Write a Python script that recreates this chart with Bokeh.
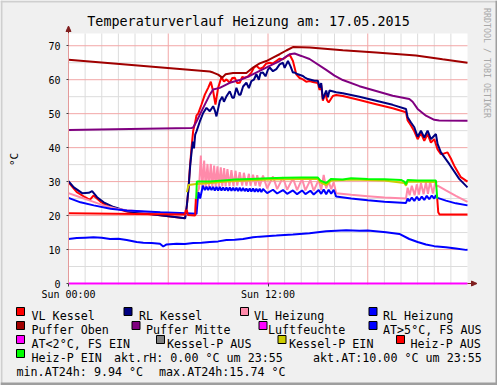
import math
from bokeh.plotting import figure
from bokeh.models import Range1d, FixedTicker, LinearAxis
from bokeh.core.properties import value
from bokeh.embed import file_html
from bokeh.resources import INLINE

# ---------------- data (hours of day, temperature °C) ----------------
vl_kessel = [(0, 29.8), (0.5, 26.9), (1.0, 25.4), (1.28, 24.6), (1.5, 25.9), (1.9, 24.2), (2.3, 22.9),
             (2.7, 22.3), (3.5, 21.2), (4.5, 20.6), (5.5, 20.1), (6.5, 19.5), (7.0, 19.2), (7.1, 22.0),
             (7.2, 27.0), (7.3, 34.0), (7.4, 40.0), (7.5, 45.0), (7.6, 47.0), (7.7, 49.5), (7.8, 50.0),
             (8.0, 52.7), (8.2, 55.6), (8.4, 57.6), (8.56, 59.4), (8.7, 56.6), (8.84, 52.7), (9.0, 57.6),
             (9.2, 60.8), (9.35, 59.5), (9.5, 60.1), (9.7, 59.1), (9.85, 60.5), (10.0, 60.6), (10.15, 59.0),
             (10.3, 59.1), (10.45, 60.8), (10.6, 60.6), (10.8, 61.0), (11.0, 62.1), (11.15, 63.5),
             (11.3, 64.1), (11.5, 63.2), (11.7, 63.6), (11.9, 64.8), (12.1, 65.0), (12.3, 64.8),
             (12.5, 65.5), (12.7, 66.2), (12.9, 66.0), (13.1, 66.8), (13.3, 67.4), (13.5, 65.5),
             (13.7, 61.6), (13.9, 60.5), (14.1, 60.1), (14.3, 59.4), (14.5, 59.6), (14.7, 59.3),
             (15.0, 59.0), (15.1, 57.0), (15.2, 58.5), (15.3, 53.8), (15.45, 56.0), (15.55, 54.0),
             (15.65, 53.3), (15.9, 55.2), (16.1, 55.5), (16.5, 55.2), (17.5, 54.0), (18.5, 52.8),
             (19.5, 51.6), (20.3, 50.4), (20.4, 48.0), (20.6, 46.5), (20.8, 44.8), (21.0, 42.5),
             (21.2, 44.3), (21.4, 42.0), (21.6, 44.0), (21.8, 41.5), (22.0, 42.5), (22.2, 39.5),
             (22.4, 38.1), (22.6, 38.3), (22.8, 38.6), (23.0, 36.8), (23.2, 34.7), (23.6, 31.3), (24, 30.0)]

rl_kessel = [(0, 30.1), (0.32, 28.3), (0.82, 26.6), (1.22, 26.7), (1.42, 27.2), (1.72, 25.4), (2.12, 23.9),
             (2.72, 22.5), (3.52, 21.3), (4.52, 20.7), (5.52, 20.1), (6.52, 19.5), (7.02, 19.2),
             (7.12, 23.0), (7.22, 27.9), (7.32, 34.7), (7.42, 39.5), (7.48, 41.8), (7.55, 39.8),
             (7.62, 43.8), (7.7, 44.8), (7.9, 47.7), (8.1, 50.2), (8.3, 51.7), (8.5, 50.7), (8.7, 52.2),
             (8.8, 51.0), (8.9, 49.2), (9.1, 53.7), (9.25, 55.0), (9.35, 53.5), (9.5, 55.1), (9.7, 56.6),
             (9.85, 54.7), (9.95, 54.7), (10.1, 57.6), (10.25, 55.6), (10.35, 55.6), (10.5, 58.0),
             (10.7, 59.1), (10.85, 57.5), (11.0, 59.6), (11.15, 60.0), (11.3, 61.6), (11.45, 60.0),
             (11.55, 62.0), (11.7, 62.1), (11.85, 61.0), (12.0, 63.0), (12.1, 63.6), (12.3, 62.5),
             (12.5, 63.1), (12.7, 64.5), (12.9, 65.0), (13.0, 63.5), (13.2, 65.5), (13.35, 64.0),
             (13.5, 62.1), (13.6, 62.1), (13.8, 61.6), (14.1, 61.1), (14.2, 60.7), (14.4, 60.2),
             (14.8, 59.7), (15.0, 59.7), (15.1, 57.7), (15.2, 59.0), (15.3, 54.3), (15.5, 56.8),
             (15.6, 54.8), (15.7, 56.8), (16.1, 56.3), (16.5, 56.0), (17.5, 55.0), (18.5, 53.8),
             (19.5, 52.6), (20.3, 51.4), (20.4, 48.9), (20.6, 47.4), (20.8, 46.0), (21.0, 43.2),
             (21.2, 45.0), (21.4, 43.0), (21.6, 45.0), (21.8, 42.5), (22.0, 43.5), (22.1, 44.0),
             (22.2, 41.1), (22.4, 38.6), (22.9, 35.2), (23.5, 30.8), (24, 28.3)]

vl_heizung = [(0, 26.6), (0.7, 25.4), (1.3, 24.4), (2.1, 23.0), (2.9, 22.0), (3.5, 21.6), (4.5, 21.1),
              (5.5, 20.8), (6.5, 20.5), (7.0, 20.4), (7.6, 20.3), (7.72, 26.5), (7.85, 28.0),
              (7.96, 37.7), (8.05, 28.3), (8.16, 36.2), (8.25, 28.3), (8.36, 35.2), (8.45, 28.4),
              (8.56, 35.2), (8.65, 28.4), (8.76, 34.7), (8.85, 28.5), (8.96, 34.5), (9.05, 28.5),
              (9.16, 34.2), (9.25, 28.6), (9.36, 34.0), (9.45, 28.6), (9.56, 33.7), (9.68, 28.7),
              (9.8, 33.4), (9.92, 28.7), (10.05, 33.2), (10.15, 28.8), (10.3, 32.8), (10.45, 28.8),
              (10.55, 32.6), (10.7, 28.8), (10.85, 32.3), (10.95, 28.8), (11.1, 32.0), (11.25, 28.8),
              (11.35, 31.9), (11.5, 28.6), (11.7, 31.8), (11.95, 28.0), (12.3, 31.5), (12.55, 27.8),
              (12.9, 31.3), (13.15, 27.6), (13.5, 31.0), (13.75, 27.5), (14.05, 30.8), (14.25, 27.4),
              (14.55, 30.5), (14.75, 27.3), (15.05, 30.5), (15.2, 27.5), (15.35, 32.0), (15.5, 28.0),
              (15.65, 30.0), (15.8, 27.8), (15.95, 29.8), (16.1, 26.6), (17, 26.1), (18, 25.7),
              (19, 25.3), (20.3, 25.0), (20.4, 28.2), (20.52, 26.0), (20.65, 28.8), (20.82, 26.0),
              (20.95, 29.2), (21.08, 26.2), (21.2, 29.6), (21.36, 26.3), (21.5, 29.8), (21.62, 26.4),
              (21.75, 30.0), (21.92, 26.5), (22.05, 29.5), (22.15, 28.6), (22.2, 28.8), (22.7, 27.4),
              (23.3, 25.8), (24, 24.0)]

rl_heizung = [(0, 25.2), (0.72, 23.9), (1.52, 23.0), (2.52, 22.0), (3.52, 21.5), (5.52, 21.0), (7.08, 20.7),
              (7.7, 20.5), (7.76, 24.0), (7.82, 26.9), (7.92, 25.0), (8.08, 28.8),
              (8.2, 27.5), (8.3, 28.5), (8.4, 27.5), (8.5, 28.5), (8.6, 27.5), (8.7, 28.4), (8.8, 27.4),
              (8.9, 28.4), (9.0, 27.4), (9.1, 28.4), (9.2, 27.4), (9.3, 28.3), (9.4, 27.4), (9.5, 28.3),
              (9.6, 27.3), (9.7, 28.3), (9.8, 27.3), (9.9, 28.2), (10.0, 27.3), (10.1, 28.2), (10.2, 27.2),
              (10.3, 28.2), (10.4, 27.2), (10.5, 28.1), (10.6, 27.2), (10.7, 28.0), (10.8, 27.1),
              (10.9, 28.0), (11.0, 27.1), (11.1, 28.0), (11.2, 27.0), (11.3, 27.9), (11.4, 27.0),
              (11.5, 27.9), (11.6, 26.9), (11.7, 27.8),
              (11.95, 26.6), (12.3, 27.6), (12.55, 26.5), (12.9, 27.5), (13.15, 26.4), (13.5, 27.4),
              (13.75, 26.3), (14.05, 27.4), (14.25, 26.3), (14.55, 27.3), (14.75, 26.2), (15.05, 27.5),
              (15.2, 26.4), (15.35, 27.7), (15.5, 26.3), (15.65, 27.6), (15.8, 26.4), (15.95, 27.6),
              (16.1, 25.6), (17, 25.0), (18, 24.5), (19, 24.1), (20.3, 23.7),
              (20.4, 25.0), (20.5, 24.2), (20.65, 25.3), (20.8, 24.3), (20.95, 25.5), (21.1, 24.5),
              (21.25, 25.6), (21.4, 24.6), (21.55, 25.8), (21.7, 24.8), (21.85, 25.9), (22.0, 25.0),
              (22.1, 26.0), (22.2, 25.2), (22.7, 24.4), (23.3, 23.6), (24, 23.0)]

puffer_oben = [(0, 65.9), (8.5, 62.4), (8.7, 62.1), (9.0, 61.5), (9.25, 60.6), (9.45, 61.6), (9.9, 62.0),
               (10.7, 62.0), (11.1, 63.6), (11.5, 64.8), (11.9, 65.5), (12.3, 66.5), (12.7, 67.5),
               (13.1, 68.6), (13.5, 69.6), (14.5, 69.5), (16.5, 68.7), (18.5, 68.0), (20.9, 67.1),
               (22.5, 66.0), (24, 65.0)]

puffer_mitte = [(0, 45.2), (7.4, 45.8), (7.5, 45.9), (7.7, 47.7), (8.1, 51.7), (8.5, 55.6), (8.7, 57.1),
                (9.1, 57.6), (9.7, 59.1), (10.3, 59.9), (10.9, 61.1), (11.5, 62.6), (12.1, 64.1),
                (12.7, 65.5), (13.3, 67.5), (13.6, 67.7), (14.0, 67.0), (14.5, 66.1), (15.5, 62.9),
                (16.0, 61.2), (16.5, 59.9), (17.5, 58.1), (18.5, 56.7), (19.5, 55.3), (20.5, 54.3),
                (20.7, 53.5), (21.0, 51.4), (21.5, 49.4), (22.0, 48.2), (22.3, 48.0), (24, 47.9)]

luftfeuchte = [(0, 0.0), (24, 0.0)]

aussen_temp = [(0, 13.1), (0.5, 13.4), (1.0, 13.5), (1.5, 13.6), (2.0, 13.5), (2.5, 13.1), (3.0, 13.2),
               (3.5, 12.8), (4.1, 12.2), (4.5, 12.0), (5.0, 11.9), (5.5, 11.7), (5.7, 10.9), (5.9, 11.5),
               (6.5, 11.7), (7.0, 11.6), (7.5, 11.9), (8.0, 12.0), (8.5, 12.2), (9.0, 12.4), (9.5, 12.8),
               (10.0, 12.9), (10.5, 13.1), (11.1, 13.6), (11.5, 13.8), (12.1, 14.0), (12.5, 14.1),
               (13.5, 14.4), (14.5, 14.8), (15.5, 15.4), (16.7, 15.7), (17.5, 15.5), (18.0, 15.6),
               (19.1, 15.1), (19.9, 14.6), (20.5, 13.1), (21.0, 12.2), (21.5, 11.5), (22.0, 11.0),
               (22.7, 10.7), (23.3, 10.3), (23.9, 9.9), (24, 9.94)]

kessel_p_ein = [(7.12, 26.9), (7.22, 29.0), (7.68, 29.3), (8.5, 29.6), (9.5, 30.0), (11.0, 30.4),
                (12.0, 30.6), (14.0, 30.8), (15.0, 30.8), (15.15, 29.8), (15.5, 29.0), (15.8, 30.3),
                (17.0, 30.6), (19.0, 30.3), (20.2, 29.6), (20.3, 28.8), (20.4, 30.0), (22.1, 29.9),
                (22.15, 29.5)]

heiz_p_aus = [(0, 20.7), (7.0, 20.3), (7.05, 21.5), (7.12, 21.5), (7.18, 20.2), (7.62, 20.0), (7.66, 25.0),
              (None, None),
              (22.18, 25.0), (22.24, 21.0), (22.32, 20.3), (24, 20.3)]

heiz_p_ein = [(7.68, 24.9), (7.72, 30.0), (8.5, 30.0), (9.5, 30.4), (10.0, 30.6), (11.0, 30.8), (12.0, 31.0),
              (13.0, 31.1), (14.0, 31.2), (15.0, 31.2), (15.15, 30.3), (15.5, 29.6), (15.8, 30.8),
              (16.5, 30.6), (17.0, 31.0), (18.0, 30.8), (19.0, 30.7), (20.0, 30.5), (20.2, 30.0),
              (20.3, 29.2), (20.4, 30.5), (21.0, 30.3), (22.1, 30.3), (22.18, 25.0)]

y_ticks = [0, 10, 20, 30, 40, 50, 60, 70]
y_minor = [5, 15, 25, 35, 45, 55, 65]
x_ticks = [0, 12]
x_tick_labels = ["Sun 00:00", "Sun 12:00"]
x_major_grid = [6, 12, 18]
x_minor_grid = [h for h in range(1, 24) if h % 6 != 0]

title_text = "Temperaturverlauf Heizung am: 17.05.2015"
unit_text = "°C"
credit_text = "RRDTOOL / TOBI OETIKER"

# name, colour, data (None = legend entry only)
series = [
    ("VL Kessel", "#ff0000", vl_kessel),
    ("RL Kessel", "#000080", rl_kessel),
    ("VL Heizung", "#ff8aaa", vl_heizung),
    ("RL Heizung", "#0000ff", rl_heizung),
    ("Puffer Oben", "#a00000", puffer_oben),
    ("Puffer Mitte", "#800080", puffer_mitte),
    ("Luftfeuchte", "#ff00ff", luftfeuchte),
    ("AT>5°C, FS AUS", "#0000ff", aussen_temp),
    ("AT<2°C, FS EIN", "#ff00ff", None),
    ("Kessel-P AUS", "#808080", None),
    ("Kessel-P EIN", "#cccc00", kessel_p_ein),
    ("Heiz-P AUS", "#ff0000", heiz_p_aus),
    ("Heiz-P EIN", "#00ff00", heiz_p_ein),
]

info_texts = ["akt.rH: 0.00 °C um 23:55", "akt.AT:10.00 °C um 23:55",
              "min.AT24h: 9.94 °C", "max.AT24h:15.74 °C"]

# ---------------- geometry (canvas pixels) ----------------
FONT = "DejaVu Sans Mono"
BG = "#f0f0f0"
AXIS_COL = "#e49a9a"
ARROW_COL = "#801f1f"
W, H = 497, 385
X0, PX_PER_H = 68, 399 / 24                            # hour 0 at x=68
Y0, PX_PER_DEG = 283, 251 / 73.9                       # 0 °C at y=283
T_MIN, T_MAX = 0, 24
V_MIN, V_MAX = -0.3, 73.6                              # drawing area of the graph

p = figure(width=W, height=H, output_backend="svg",
           toolbar_location=None, title=None, x_axis_type=None, y_axis_type=None,
           x_range=Range1d(0, W), y_range=Range1d(H, 0),
           min_border=0, min_border_left=0, min_border_right=0, min_border_top=0, min_border_bottom=0,
           background_fill_color=BG, border_fill_color=BG)
p.outline_line_color = None
p.extra_x_ranges = {"t": Range1d((0 - X0) / PX_PER_H, (W - X0) / PX_PER_H)}
p.extra_y_ranges = {"v": Range1d((Y0 - H) / PX_PER_DEG, (Y0 - 0) / PX_PER_DEG)}
D = dict(x_range_name="t", y_range_name="v")

# outer 3-D frame
p.quad(left=[0, 0], right=[W, 2], top=[0, 0], bottom=[2, H], fill_color="#cfcfcf", line_color=None)
p.quad(left=[0, W - 2], right=[W, W], top=[H - 3, 0], bottom=[H, H], fill_color="#9e9e9e", line_color=None)

# graph canvas and grid
p.quad(left=[T_MIN], right=[T_MAX], bottom=[V_MIN], top=[V_MAX], fill_color="white", line_color=None, **D)
p.segment(x0=x_minor_grid, y0=[V_MIN] * len(x_minor_grid), x1=x_minor_grid, y1=[V_MAX] * len(x_minor_grid),
          line_color="#dcdcdc", line_width=1, **D)
p.segment(x0=[T_MIN] * len(y_minor), y0=y_minor, x1=[T_MAX] * len(y_minor), y1=y_minor,
          line_color="#dcdcdc", line_width=1, **D)
p.segment(x0=x_major_grid, y0=[V_MIN] * len(x_major_grid), x1=x_major_grid, y1=[V_MAX] * len(x_major_grid),
          line_color="#f2a6a6", line_width=1, **D)
p.segment(x0=[T_MIN] * 7, y0=y_ticks[1:], x1=[T_MAX] * 7, y1=y_ticks[1:],
          line_color="#f2a6a6", line_width=1, **D)

# data lines
for name, color, data in series:
    if data is None:
        continue
    xs = [float("nan") if a is None else a for a, b in data]
    ys = [float("nan") if b is None else b for a, b in data]
    p.line(xs, ys, line_color=color, line_width=2, **D)

# axes (fixed at the origin of the graph)
xaxis = LinearAxis(x_range_name="t", y_range_name="v", fixed_location=0, bounds=(T_MIN, T_MAX),
                   ticker=FixedTicker(ticks=x_ticks))
xaxis.major_label_overrides = {t: s for t, s in zip(x_ticks, x_tick_labels)}
yaxis = LinearAxis(x_range_name="t", y_range_name="v", fixed_location=0, bounds=(0, V_MAX),
                   ticker=FixedTicker(ticks=y_ticks))
for ax in (xaxis, yaxis):
    ax.axis_line_color = AXIS_COL
    ax.major_tick_in = 0
    ax.minor_tick_out = 0
    ax.minor_tick_in = 0
    ax.major_tick_line_color = "#404040"
    ax.major_label_text_font = FONT
    ax.major_label_text_font_size = "10px"
    ax.major_label_text_color = "black"
xaxis.axis_line_color = None
xaxis.major_tick_out = 3
xaxis.major_label_standoff = 2
yaxis.major_tick_out = 2
yaxis.major_label_standoff = 6
p.add_layout(xaxis, "below")
p.add_layout(yaxis, "left")

# axis extensions with arrow heads (canvas pixels)
p.segment(x0=[467, 68], y0=[283, 33], x1=[472, 68], y1=[283, 28], line_color=ARROW_COL, line_width=1)
p.patch(x=[471, 471, 476.5], y=[280.5, 285.5, 283], fill_color=ARROW_COL, line_color=ARROW_COL)
p.patch(x=[65.5, 70.5, 68], y=[31, 31, 25.5], fill_color=ARROW_COL, line_color=ARROW_COL)

# texts
p.text(x=[248], y=[20.5], text=[title_text], text_font=value(FONT), text_font_size="13.4px",
       text_align="center", text_baseline="alphabetic", text_color="black")
p.text(x=[14], y=[159], text=[unit_text], text_font=value(FONT), text_font_size="11px",
       text_align="center", text_baseline="middle", text_color="black", angle=math.pi / 2)
p.text(x=[486.5], y=[62.5], text=[credit_text], text_font=value(FONT), text_font_size="8.3px",
       text_align="center", text_baseline="middle", text_color="#a8a8a8", angle=-math.pi / 2)

# legend
legend_pos = [
    (16, 31, 315), (123.5, 138.5, 315), (240, 253.5, 315), (368.5, 382.5, 315),
    (16, 31, 329), (131.5, 145.5, 329), (258.5, 267.5, 329), (368.5, 382.5, 329),
    (16, 31, 343), (156, 166.5, 343), (277.5, 288.5, 343), (396, 410, 343),
    (16, 31, 357),
]
p.quad(left=[sx for sx, tx, by in legend_pos], right=[sx + 8 for sx, tx, by in legend_pos],
       top=[by - 8 for sx, tx, by in legend_pos], bottom=[by for sx, tx, by in legend_pos],
       fill_color=[c for _, c, _ in series], line_color="black", line_width=1)
p.text(x=[tx for sx, tx, by in legend_pos], y=[by for sx, tx, by in legend_pos],
       text=[n for n, _, _ in series], text_font=value(FONT), text_font_size="11.7px",
       text_align="left", text_baseline="alphabetic", text_color="black")
info_pos = [(113.5, 357), (312.5, 357), (16, 371), (158.5, 371)]
p.text(x=[x for x, y in info_pos], y=[y for x, y in info_pos], text=info_texts,
       text_font=value(FONT), text_font_size="11.7px",
       text_align="left", text_baseline="alphabetic", text_color="black")

open("out.html", "w").write(file_html(p, INLINE))
